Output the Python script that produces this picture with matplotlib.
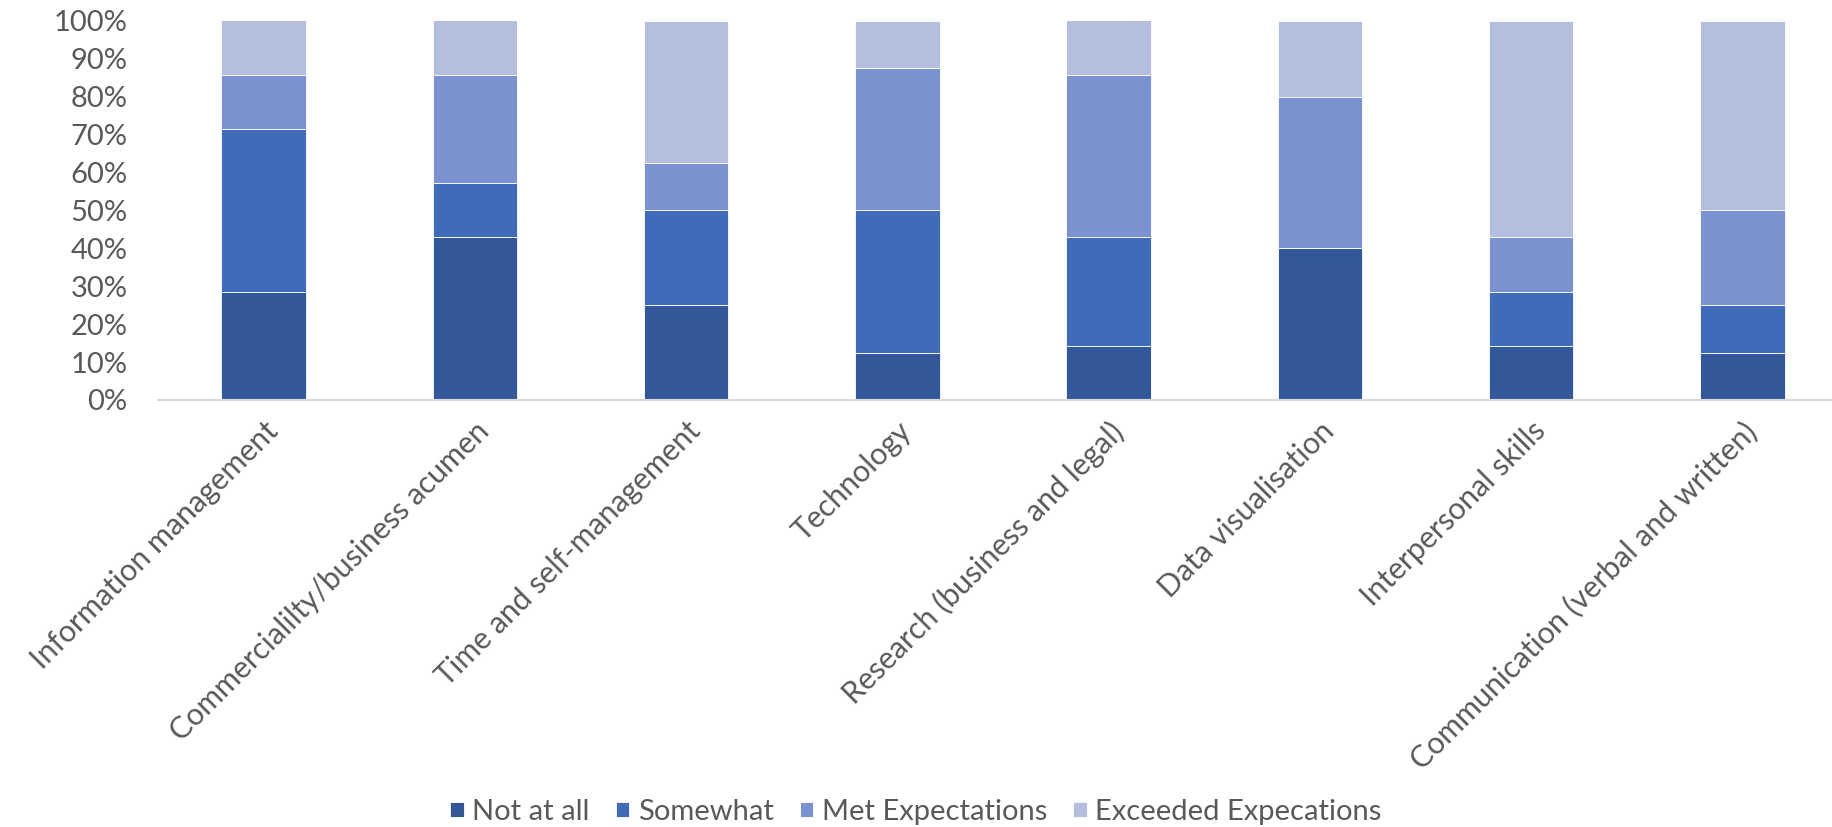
import numpy as np
import matplotlib.pyplot as plt
from matplotlib.ticker import PercentFormatter

plt.rcParams['font.family'] = ['Lato', 'DejaVu Sans']

categories = [
    "Information management",
    "Commercialilty/business acumen",
    "Time and self-management",
    "Technology",
    "Research (business and legal)",
    "Data visualisation",
    "Interpersonal skills",
    "Communication (verbal and written)",
]
series_names = ["Not at all", "Somewhat", "Met Expectations", "Exceeded Expecations"]

# shares in percent
not_at_all = [28.6, 42.9, 25.0, 12.5, 14.3, 40.0, 14.3, 12.5]
somewhat = [42.9, 14.3, 25.0, 37.5, 28.6, 0.0, 14.3, 12.5]
met = [14.3, 28.6, 12.5, 37.5, 42.9, 40.0, 14.3, 25.0]
exceeded = [14.3, 14.3, 37.5, 12.5, 14.3, 20.0, 57.1, 50.0]

colors = ["#335899", "#3F6BB8", "#7A92CF", "#B4BEDF"]
text_color = "#595959"

fig = plt.figure(figsize=(18.32, 8.27), dpi=100)
W, H = 1832, 827
ax = fig.add_axes([158 / W, 1 - 400 / H, (1848 - 158) / W, (400 - 20.7) / H])

x = np.arange(len(categories))
bottom = np.zeros(len(categories))
for name, vals, c in zip(series_names, [not_at_all, somewhat, met, exceeded], colors):
    ax.bar(x, vals, width=0.4, bottom=bottom, color=c, label=name,
           edgecolor="white", linewidth=0.6)
    bottom += np.array(vals)

ax.set_xlim(-0.5, len(categories) - 0.5)
ax.set_ylim(0, 100)
ax.set_yticks(np.arange(0, 101, 10))
ax.yaxis.set_major_formatter(PercentFormatter(decimals=0))

for s in ["top", "right", "left"]:
    ax.spines[s].set_visible(False)
ax.spines["bottom"].set_color("#D9D9D9")
ax.spines["bottom"].set_linewidth(1.5)

ax.tick_params(axis="y", length=0, pad=22, labelsize=21, labelcolor=text_color)
ax.tick_params(axis="x", length=0, pad=12, labelsize=21.8, labelcolor=text_color)
ax.set_xticks(x)
ax.set_xticklabels(categories, rotation=45, ha="right", va="top", rotation_mode="anchor")

leg = fig.legend(loc="center", bbox_to_anchor=(0.5, 1 - 812 / H), ncol=4, frameon=False,
                 fontsize=21, handlelength=0.45, handleheight=0.45, handletextpad=0.3,
                 columnspacing=0.9)
for t in leg.get_texts():
    t.set_color(text_color)

fig.savefig("out.png", dpi=100)
